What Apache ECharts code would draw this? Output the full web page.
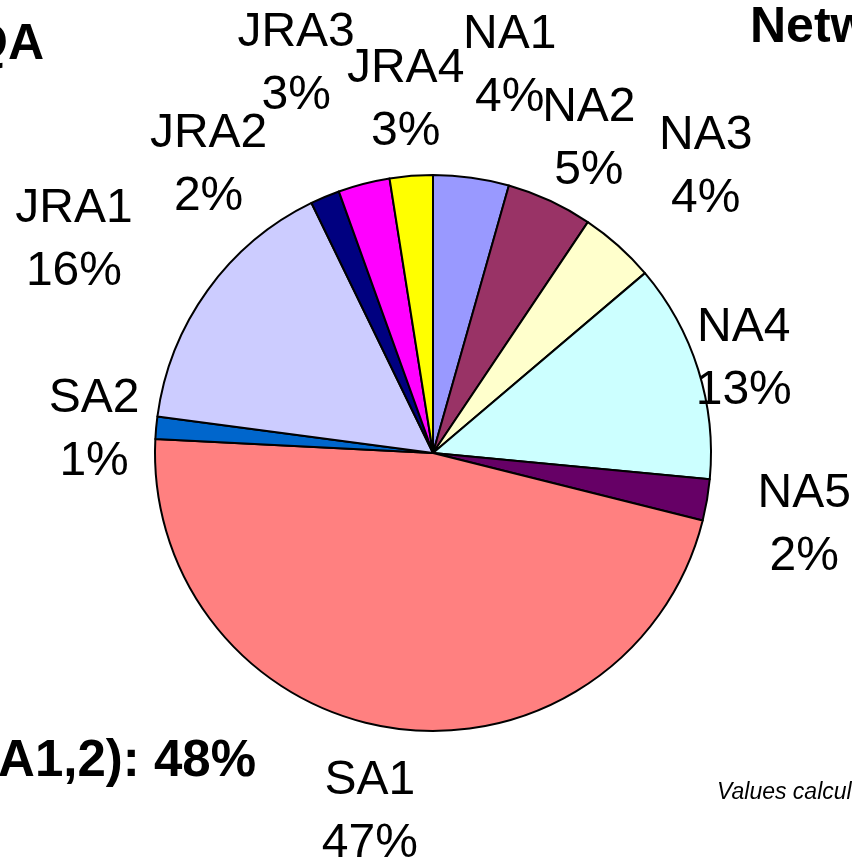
<!DOCTYPE html>
<html>
<head>
<meta charset="utf-8">
<title>Share per activity</title>
<script src="https://cdn.jsdelivr.net/npm/echarts@6/dist/echarts.min.js"></script>
<style>
html, body { margin: 0; padding: 0; background: #fff; }
#main { width: 852px; height: 866px; }
</style>
</head>
<body>
<div id="main"></div>
<script>
// slices, clockwise from 12 o'clock
var names = ['NA1', 'NA2', 'NA3', 'NA4', 'NA5', 'SA1', 'SA2', 'JRA1', 'JRA2', 'JRA3', 'JRA4'];
var shares = [4.4, 5.0, 4.4, 12.7, 2.4, 46.9, 1.3, 15.7, 1.7, 3.0, 2.5];
var colors = ['#9999FF', '#993366', '#FFFFCC', '#CCFFFF', '#660066', '#FF8080',
              '#0066CC', '#CCCCFF', '#000080', '#FF00FF', '#FFFF00'];

// labels were dragged by hand in the original sheet, nudge them the same way (px)
var labelShift = [[27, -29], [4, 14], [32, -16], [-34, 15], [15, 11], [-10, 2],
                  [21, 10], [-66, -1], [-84, 45], [-47, -39], [1, 8]];

var font = 'Liberation Sans, Arial, sans-serif';
var chart = echarts.init(document.getElementById('main'));

function placeLabel(p) {
	var lay = chart.getModel().getSeriesByIndex(0).getData().getItemLayout(p.dataIndex);
	var mid = (lay.startAngle + lay.endAngle) / 2;
	var d = lay.r * 1.3;
	var s = labelShift[p.dataIndex];
	return {
		x: lay.cx + d * Math.cos(mid) + s[0],
		y: lay.cy + d * Math.sin(mid) + s[1],
		align: 'center',
		verticalAlign: 'middle'
	};
}

var pieData = names.map(function (n, i) {
	return {name: n, value: shares[i], itemStyle: {color: colors[i]}};
});

var option = {
	animation: false,
	backgroundColor: '#fff',
	series: [{
		type: 'pie',
		center: [433, 453],
		radius: 278,
		startAngle: 90,
		clockwise: true,
		avoidLabelOverlap: false,
		silent: true,
		data: pieData,
		itemStyle: {borderColor: '#000', borderWidth: 2},
		label: {
			show: true,
			position: 'outside',
			formatter: function (p) {
				return p.name + '\n' + Math.round(p.percent) + '%';
			},
			fontFamily: font,
			fontSize: 48,
			lineHeight: 63,
			color: '#000'
		},
		labelLine: {show: false},
		labelLayout: placeLabel
	}],
	graphic: [
		{type: 'text', x: 44, y: 45, style: {text: 'QA', fontFamily: font, fontWeight: 'bold', fontSize: 50, fill: '#000', align: 'right', verticalAlign: 'middle'}},
		{type: 'text', x: 750, y: 28, style: {text: 'Netw', fontFamily: font, fontWeight: 'bold', fontSize: 50, fill: '#000', align: 'left', verticalAlign: 'middle'}},
		{type: 'text', x: 256, y: 762, style: {text: 'A1,2): 48%', fontFamily: font, fontWeight: 'bold', fontSize: 51, fill: '#000', align: 'right', verticalAlign: 'middle'}},
		{type: 'text', x: 717, y: 793, style: {text: 'Values calcul', fontFamily: font, fontStyle: 'italic', fontSize: 23, fill: '#000', align: 'left', verticalAlign: 'middle'}}
	]
};

chart.setOption(option);
</script>
</body>
</html>
